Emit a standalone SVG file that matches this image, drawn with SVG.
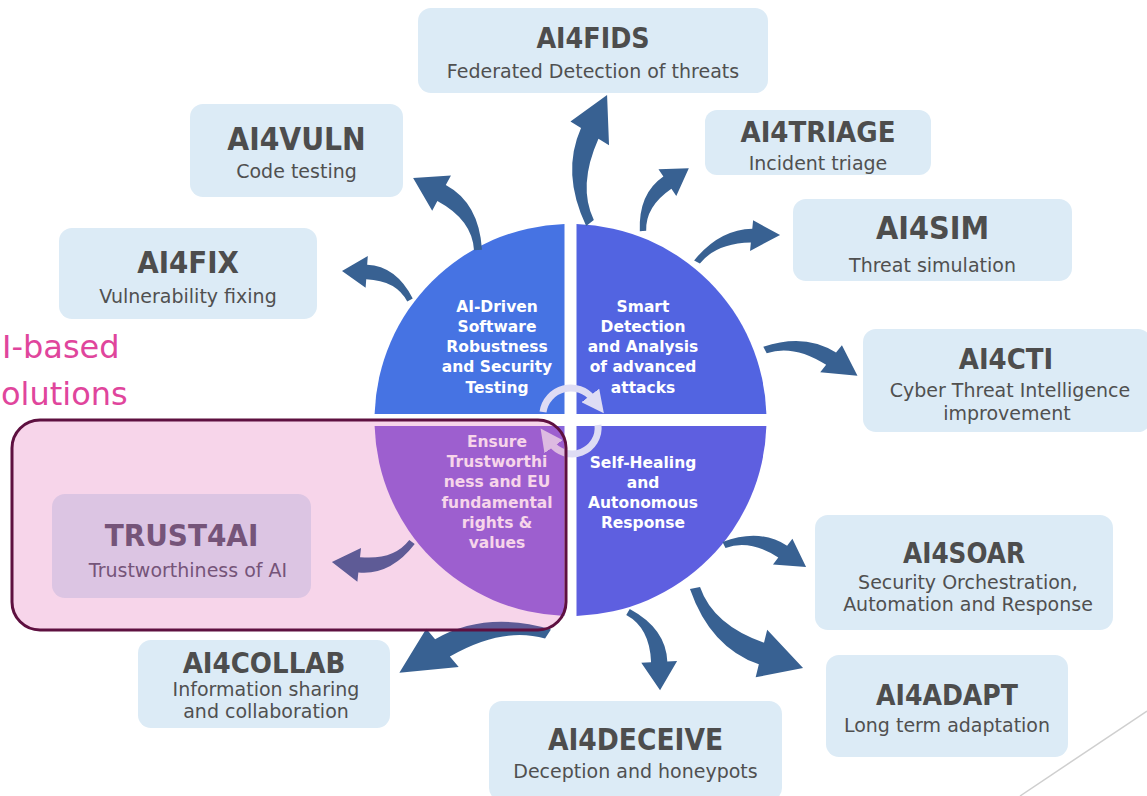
<svg xmlns="http://www.w3.org/2000/svg" xmlns:xlink="http://www.w3.org/1999/xlink" width="1147" height="796" viewBox="0 0 1147 796">
  <style>
    .box { fill: #dcebf6; }
    .ttl { font-family: "DejaVu Sans Condensed", "DejaVu Sans", sans-serif; font-weight: bold; fill: #4d4d4d; text-anchor: middle; }
    .sub { font-family: "DejaVu Sans", sans-serif; fill: #505050; text-anchor: middle; font-size: 19px; }
    .qt { font-family: "DejaVu Sans", sans-serif; font-weight: bold; fill: #ffffff; text-anchor: middle; font-size: 15.5px; }
    .arw { fill: #386192; }
    .cyc { fill: none; stroke: #dedcf4; stroke-width: 7; }
    .pinklbl { font-family: "DejaVu Sans", sans-serif; fill: #e0459c; font-size: 32px; }
  </style>
  <defs>
    <!-- curved block arrow: tail at (0,0), tip at (96,0), shaft bowing toward -y -->
    <path id="curvedArrow" d="M 2.5,3.1 Q 26.1,-15.8 62.9,-2.5 L 59.2,7.8 L 96,0 L 72.8,-29.8 L 69.1,-19.5 Q 33.9,-32.2 -2.5,-3.1 Z"/>
    <marker id="cycHead" viewBox="0 0 10 10" refX="2" refY="5" markerWidth="3.2" markerHeight="3.2" orient="auto" markerUnits="strokeWidth">
      <path d="M0,0 L10,5 L0,10 Z" fill="#dedcf4"/>
    </marker>
  </defs>

  <rect width="1147" height="796" fill="#ffffff"/>

  <!-- corner decoration -->
  <line x1="1147" y1="711" x2="1020" y2="796" stroke="#cfcfcf" stroke-width="1.5"/>

  <!-- side heading -->
  <g id="heading">
    <text class="pinklbl" x="2" y="358">I-based</text>
    <text class="pinklbl" x="1" y="405">olutions</text>
  </g>

  <!-- central wheel -->
  <g id="q-testing">
    <path d="M 564.5,414 L 374.6,414 A 196 196 0 0 1 564.5,224.1 Z" fill="#4673e3"/>
    <text class="qt" x="497" y="312">AI-Driven</text>
    <text class="qt" x="497" y="332">Software</text>
    <text class="qt" x="497" y="352">Robustness</text>
    <text class="qt" x="497" y="372">and Security</text>
    <text class="qt" x="497" y="393">Testing</text>
  </g>
  <g id="q-detection">
    <path d="M 576.5,414 L 576.5,224.1 A 196 196 0 0 1 766.4,414 Z" fill="#5264e1"/>
    <text class="qt" x="643" y="312">Smart</text>
    <text class="qt" x="643" y="332">Detection</text>
    <text class="qt" x="643" y="352">and Analysis</text>
    <text class="qt" x="643" y="372">of advanced</text>
    <text class="qt" x="643" y="393">attacks</text>
  </g>
  <g id="q-healing">
    <path d="M 576.5,426 L 766.4,426 A 196 196 0 0 1 576.5,615.9 Z" fill="#5e5fe0"/>
    <text class="qt" x="643" y="468">Self-Healing</text>
    <text class="qt" x="643" y="488">and</text>
    <text class="qt" x="643" y="508">Autonomous</text>
    <text class="qt" x="643" y="528">Response</text>
  </g>
  <g id="q-trust">
    <path d="M 564.5,426 L 564.5,615.9 A 196 196 0 0 1 374.6,426 Z" fill="#8a66dc"/>
    <text class="qt" x="497" y="447">Ensure</text>
    <text class="qt" x="497" y="467">Trustworthi</text>
    <text class="qt" x="497" y="487">ness and EU</text>
    <text class="qt" x="497" y="508">fundamental</text>
    <text class="qt" x="497" y="528">rights &amp;</text>
    <text class="qt" x="497" y="548">values</text>
  </g>

  <!-- cycle arrows in the hub -->
  <g id="hub-cycle">
    <path class="cyc" d="M 543,412 A 28 28 0 0 1 593,399" marker-end="url(#cycHead)"/>
    <path class="cyc" d="M 598,425 A 26 26 0 0 1 551,443" marker-end="url(#cycHead)"/>
  </g>

  <!-- connectors -->
  <g id="connectors" class="arw">
    <use href="#curvedArrow" transform="translate(590,223) rotate(-82.4) scale(1.345,1.1)"/>
    <use href="#curvedArrow" transform="translate(643,231) rotate(-53.9) scale(0.81,0.8)"/>
    <use href="#curvedArrow" transform="translate(697,262) rotate(-18) scale(0.91,0.75)"/>
    <use href="#curvedArrow" transform="translate(765,350) rotate(15.6) scale(1.0,0.85)"/>
    <use href="#curvedArrow" transform="translate(724,545) rotate(15) scale(0.885,0.8)"/>
    <use href="#curvedArrow" transform="translate(695,588) rotate(36.5) scale(1.4,-1.2)"/>
    <use href="#curvedArrow" transform="translate(628,612) rotate(67.7) scale(0.88,0.9)"/>
    <use href="#curvedArrow" transform="translate(548,634) rotate(165.4) scale(1.6,-1.2)"/>
    <use href="#curvedArrow" transform="translate(412,542) rotate(166) scale(0.86,0.85)"/>
    <use href="#curvedArrow" transform="translate(410,300) rotate(-156.9) scale(0.77,-0.8)"/>
    <use href="#curvedArrow" transform="translate(478,250) rotate(-132) scale(1.01,-1.0)"/>
  </g>

  <!-- solution boxes -->
  <g id="ai4fids">
    <rect class="box" x="418" y="8" width="350" height="85" rx="13"/>
    <text class="ttl" x="593" y="48" font-size="28.3">AI4FIDS</text>
    <text class="sub" x="593" y="78" font-size="19.4">Federated Detection of threats</text>
  </g>
  <g id="ai4vuln">
    <rect class="box" x="190" y="104" width="213" height="93" rx="13"/>
    <text class="ttl" x="296.5" y="150" font-size="31.4">AI4VULN</text>
    <text class="sub" x="296.5" y="178" font-size="20.8">Code testing</text>
  </g>
  <g id="ai4fix">
    <rect class="box" x="59" y="228" width="258" height="91" rx="13"/>
    <text class="ttl" x="188" y="273" font-size="30.8">AI4FIX</text>
    <text class="sub" x="188" y="303" font-size="21.3">Vulnerability fixing</text>
  </g>
  <g id="ai4triage">
    <rect class="box" x="705" y="110" width="226" height="65" rx="12"/>
    <text class="ttl" x="818" y="142" font-size="29">AI4TRIAGE</text>
    <text class="sub" x="818" y="170" font-size="19">Incident triage</text>
  </g>
  <g id="ai4sim">
    <rect class="box" x="793" y="199" width="279" height="82" rx="13"/>
    <text class="ttl" x="932.5" y="239" font-size="32">AI4SIM</text>
    <text class="sub" x="932.5" y="272" font-size="23.5">Threat simulation</text>
  </g>
  <g id="ai4cti">
    <rect class="box" x="863" y="329" width="288" height="103" rx="13"/>
    <text class="ttl" x="1006" y="369" font-size="28.9">AI4CTI</text>
    <text class="sub" x="1010" y="397" font-size="18">Cyber Threat Intelligence</text>
    <text class="sub" x="1007" y="420" font-size="18">improvement</text>
  </g>
  <g id="ai4soar">
    <rect class="box" x="815" y="515" width="298" height="115" rx="13"/>
    <text class="ttl" x="964" y="563" font-size="27.5">AI4SOAR</text>
    <text class="sub" x="968" y="589" font-size="18">Security Orchestration,</text>
    <text class="sub" x="968" y="611" font-size="18">Automation and Response</text>
  </g>
  <g id="ai4adapt">
    <rect class="box" x="826" y="655" width="242" height="102" rx="13"/>
    <text class="ttl" x="947" y="705" font-size="28">AI4ADAPT</text>
    <text class="sub" x="947" y="732" font-size="18.2">Long term adaptation</text>
  </g>
  <g id="ai4deceive">
    <rect class="box" x="489" y="701" width="293" height="100" rx="13"/>
    <text class="ttl" x="635.5" y="750" font-size="29.5">AI4DECEIVE</text>
    <text class="sub" x="635.5" y="778" font-size="19">Deception and honeypots</text>
  </g>
  <g id="ai4collab">
    <rect class="box" x="138" y="640" width="252" height="88" rx="13"/>
    <text class="ttl" x="264" y="673" font-size="29">AI4COLLAB</text>
    <text class="sub" x="266" y="696" font-size="18">Information sharing</text>
    <text class="sub" x="266" y="718" font-size="18">and collaboration</text>
  </g>
  <g id="trust4ai">
    <rect class="box" x="52" y="494" width="259" height="104" rx="13"/>
    <text class="ttl" x="181.5" y="546" font-size="31" fill="#56586c" style="fill:#56586c">TRUST4AI</text>
    <text class="sub" x="188" y="577" font-size="22" style="fill:#56586c">Trustworthiness of AI</text>
  </g>

  <!-- highlight frame around the trust area -->
  <g id="trust-highlight">
    <rect x="12" y="420" width="554" height="210" rx="28" fill="#dc48a3" fill-opacity="0.23" stroke="#5e1040" stroke-width="3"/>
  </g>
</svg>
